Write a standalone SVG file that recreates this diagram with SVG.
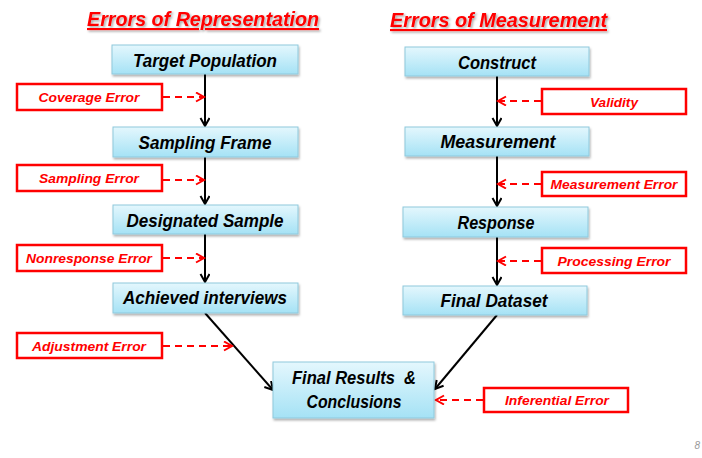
<svg xmlns="http://www.w3.org/2000/svg" width="702" height="458" viewBox="0 0 702 458">
<defs>
<linearGradient id="bg" x1="0" y1="0" x2="0" y2="1">
<stop offset="0" stop-color="#e4f7fd"/>
<stop offset="1" stop-color="#a5e2f5"/>
</linearGradient>
<filter id="sh" x="-10%" y="-20%" width="120%" height="150%">
<feDropShadow dx="1" dy="2" stdDeviation="1.2" flood-color="#000" flood-opacity="0.3"/>
</filter>
<filter id="tsh" x="-5%" y="-20%" width="110%" height="150%">
<feDropShadow dx="1.5" dy="1.5" stdDeviation="0.8" flood-color="#000" flood-opacity="0.35"/>
</filter>
<marker id="ab" markerUnits="userSpaceOnUse" markerWidth="12" markerHeight="12" refX="9" refY="5" orient="auto">
<path d="M1,0.5 L9,5 L1,9.5" fill="none" stroke="#000" stroke-width="2"/>
</marker>
<marker id="ar" markerUnits="userSpaceOnUse" markerWidth="12" markerHeight="12" refX="9" refY="5" orient="auto">
<path d="M1,0.5 L9,5 L1,9.5" fill="none" stroke="#ff0000" stroke-width="2"/>
</marker>
</defs>
<style>
.box{fill:url(#bg);stroke:#8fc9dc;stroke-width:1;filter:url(#sh)}
.nt{font-family:"Liberation Sans",Arial,sans-serif;font-weight:bold;font-style:italic;font-size:18px;fill:#000;text-anchor:middle}
.eb{fill:#fff;stroke:#ff0000;stroke-width:2.5}
.et{font-family:"Liberation Sans",Arial,sans-serif;font-weight:bold;font-style:italic;font-size:13.5px;fill:#ff0000;text-anchor:middle}
.title{font-family:"Liberation Sans",Arial,sans-serif;font-weight:bold;font-style:italic;font-size:21px;fill:#ff0000;text-decoration:underline;filter:url(#tsh)}
.bl{stroke:#000;stroke-width:2;fill:none;marker-end:url(#ab)}
.rl{stroke:#ff0000;stroke-width:2;fill:none;stroke-dasharray:7 5;marker-end:url(#ar)}
</style>
<rect width="702" height="458" fill="#fff"/>

<g id="titles">
<text class="title" x="87" y="26" textLength="232" lengthAdjust="spacingAndGlyphs">Errors of Representation</text>
<text class="title" x="390" y="27" textLength="217" lengthAdjust="spacingAndGlyphs">Errors of Measurement</text>
</g>

<g id="connectors">
<line class="bl" x1="205" y1="74" x2="205" y2="126"/>
<line class="bl" x1="205" y1="157" x2="205" y2="204"/>
<line class="bl" x1="205" y1="234" x2="205" y2="282"/>
<line class="bl" x1="205" y1="313" x2="273" y2="390"/>
<line class="bl" x1="497" y1="76" x2="497" y2="126"/>
<line class="bl" x1="497" y1="156" x2="497" y2="206"/>
<line class="bl" x1="497" y1="237" x2="497" y2="285"/>
<line class="bl" x1="497" y1="315" x2="435" y2="389"/>
<line class="rl" x1="163" y1="97" x2="204" y2="97"/>
<line class="rl" x1="163" y1="180" x2="204" y2="180"/>
<line class="rl" x1="163" y1="258" x2="204" y2="258"/>
<line class="rl" x1="163" y1="346" x2="232" y2="346"/>
<line class="rl" x1="541" y1="101" x2="498" y2="101"/>
<line class="rl" x1="541" y1="184" x2="498" y2="184"/>
<line class="rl" x1="541" y1="261" x2="498" y2="261"/>
<line class="rl" x1="483" y1="400" x2="436" y2="400"/>
</g>

<g id="target-population"><rect class="box" x="112" y="45" width="186" height="29"/><text class="nt" x="205" y="67" textLength="144" lengthAdjust="spacingAndGlyphs">Target Population</text></g>
<g id="sampling-frame"><rect class="box" x="113" y="127" width="185" height="30"/><text class="nt" x="205" y="149" textLength="133" lengthAdjust="spacingAndGlyphs">Sampling Frame</text></g>
<g id="designated-sample"><rect class="box" x="113" y="205" width="185" height="29"/><text class="nt" x="205" y="227" textLength="157" lengthAdjust="spacingAndGlyphs">Designated Sample</text></g>
<g id="achieved-interviews"><rect class="box" x="113" y="283" width="185" height="30"/><text class="nt" x="205" y="304" textLength="164" lengthAdjust="spacingAndGlyphs">Achieved interviews</text></g>

<g id="construct"><rect class="box" x="405" y="47" width="184" height="29"/><text class="nt" x="497" y="69" textLength="78" lengthAdjust="spacingAndGlyphs">Construct</text></g>
<g id="measurement"><rect class="box" x="405" y="127" width="184" height="29"/><text class="nt" x="498" y="148" textLength="115" lengthAdjust="spacingAndGlyphs">Measurement</text></g>
<g id="response"><rect class="box" x="403" y="207" width="185" height="30"/><text class="nt" x="496" y="229" textLength="77" lengthAdjust="spacingAndGlyphs">Response</text></g>
<g id="final-dataset"><rect class="box" x="403" y="286" width="184" height="29"/><text class="nt" x="494" y="307" textLength="107" lengthAdjust="spacingAndGlyphs">Final Dataset</text></g>

<g id="final-results"><rect class="box" x="273" y="362" width="161" height="56"/>
<text class="nt" x="354" y="384" textLength="124" lengthAdjust="spacingAndGlyphs" xml:space="preserve">Final Results  &amp;</text>
<text class="nt" x="354" y="408" textLength="95" lengthAdjust="spacingAndGlyphs">Conclusions</text></g>

<g id="coverage-error"><rect class="eb" x="17" y="84" width="145" height="26"/><text class="et" x="89" y="102" textLength="101" lengthAdjust="spacingAndGlyphs">Coverage Error</text></g>
<g id="sampling-error"><rect class="eb" x="17" y="165" width="145" height="26"/><text class="et" x="89" y="183" textLength="100" lengthAdjust="spacingAndGlyphs">Sampling Error</text></g>
<g id="nonresponse-error"><rect class="eb" x="17" y="245" width="145" height="26"/><text class="et" x="89" y="263" textLength="126" lengthAdjust="spacingAndGlyphs">Nonresponse Error</text></g>
<g id="adjustment-error"><rect class="eb" x="17" y="333" width="145" height="25"/><text class="et" x="89" y="351" textLength="114" lengthAdjust="spacingAndGlyphs">Adjustment Error</text></g>

<g id="validity"><rect class="eb" x="542" y="89" width="144" height="25"/><text class="et" x="614" y="107" textLength="48" lengthAdjust="spacingAndGlyphs">Validity</text></g>
<g id="measurement-error"><rect class="eb" x="542" y="172" width="144" height="24"/><text class="et" x="614" y="189" textLength="127" lengthAdjust="spacingAndGlyphs">Measurement Error</text></g>
<g id="processing-error"><rect class="eb" x="542" y="248" width="144" height="25"/><text class="et" x="614" y="266" textLength="113" lengthAdjust="spacingAndGlyphs">Processing Error</text></g>
<g id="inferential-error"><rect class="eb" x="484" y="388" width="144" height="24"/><text class="et" x="557" y="405" textLength="104" lengthAdjust="spacingAndGlyphs">Inferential Error</text></g>

<text x="700" y="449" font-family="Liberation Sans,Arial,sans-serif" font-style="italic" font-size="10" fill="#999" text-anchor="end">8</text>
</svg>
